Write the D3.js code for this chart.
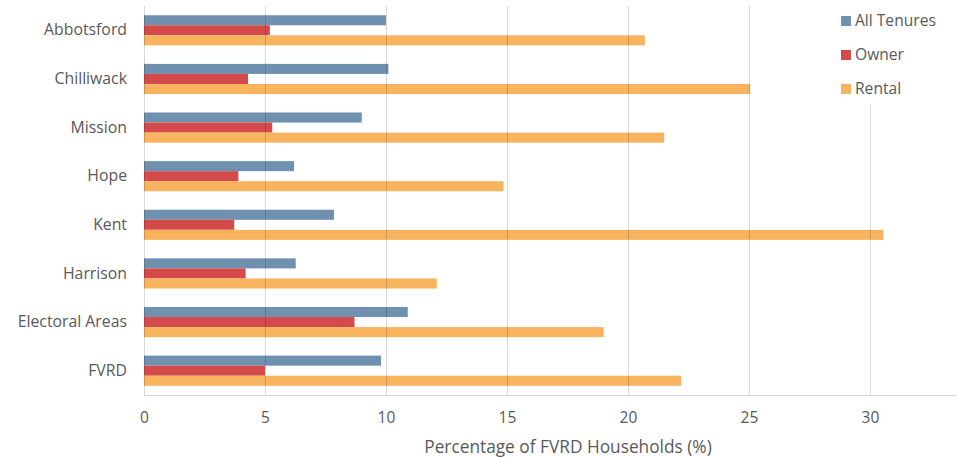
<!DOCTYPE html>
<html>
<head>
<meta charset="utf-8">
<script src="https://cdn.jsdelivr.net/npm/d3@7"></script>
<style>
  body { margin: 0; background: #fff; }
  svg { display: block; font-family: "Open Sans", "Noto Sans", sans-serif; }
</style>
</head>
<body>
<div id="chart"></div>
<script>
// categories and series
const regions = ["Abbotsford", "Chilliwack", "Mission", "Hope", "Kent", "Harrison", "Electoral Areas", "FVRD"];
const seriesNames = ["All Tenures", "Owner", "Rental"];
const allTenures = [10.0, 10.1, 9.0, 6.2, 7.85, 6.27, 10.9, 9.8];
const owner = [5.2, 4.3, 5.3, 3.9, 3.73, 4.2, 8.7, 5.0];
const rental = [20.7, 25.05, 21.5, 14.86, 30.56, 12.1, 19.0, 22.2];
const xTicks = [0, 5, 10, 15, 20, 25, 30];
const seriesColors = ["#6f91af", "#d44a4b", "#f8b35f"];

const width = 957, height = 457;
const margin = { top: 6, right: 0, bottom: 62, left: 144 };
const innerW = width - margin.left - margin.right;
const innerH = height - margin.top - margin.bottom;

const svg = d3.select("#chart").append("svg")
    .attr("width", width)
    .attr("height", height);

const chart = svg.append("g")
    .attr("transform", `translate(${margin.left},${margin.top})`);

// scales
const x = d3.scaleLinear().domain([0, 33.6]).range([0, innerW]);
const y = d3.scaleBand().domain(regions).range([0, innerH]).paddingInner(0.38).paddingOuter(0.19);
const ySub = d3.scaleBand().domain(seriesNames).range([0, y.bandwidth()]);

const values = regions.map((r, i) => ({
    region: r,
    vals: [allTenures[i], owner[i], rental[i]]
}));

// bars
const groups = chart.selectAll(".group")
    .data(values)
    .enter()
    .append("g")
    .attr("transform", d => `translate(0,${y(d.region)})`);

groups.selectAll("rect")
    .data(d => d.vals.map((v, j) => ({ key: seriesNames[j], v: v, j: j })))
    .enter()
    .append("rect")
    .attr("x", 0)
    .attr("y", d => ySub(d.key))
    .attr("width", d => x(d.v))
    .attr("height", ySub.bandwidth())
    .attr("fill", d => seriesColors[d.j]);

// gridlines on top, faint
chart.selectAll(".grid")
    .data(xTicks)
    .enter()
    .append("line")
    .attr("x1", d => x(d) + 0.5)
    .attr("x2", d => x(d) + 0.5)
    .attr("y1", 0)
    .attr("y2", innerH)
    .attr("stroke", "rgba(0,0,0,0.16)")
    .attr("stroke-width", 1);

// bottom axis line
chart.append("line")
    .attr("x1", 0)
    .attr("x2", innerW)
    .attr("y1", innerH + 0.5)
    .attr("y2", innerH + 0.5)
    .attr("stroke", "#d9d9d9");

// x axis tick labels
const xAxis = d3.axisBottom(x).tickValues(xTicks).tickSize(0).tickPadding(17);
chart.append("g")
    .attr("transform", `translate(0,${innerH})`)
    .call(xAxis)
    .call(g => g.select(".domain").remove())
    .selectAll("text")
    .style("font-family", "\"Open Sans\", sans-serif")
    .style("font-size", "15.5px")
    .style("fill", "#595959");

// y axis labels
const yAxis = d3.axisLeft(y).tickSize(0).tickPadding(17);
chart.append("g")
    .call(yAxis)
    .call(g => g.select(".domain").remove())
    .selectAll("text")
    .style("font-family", "\"Open Sans\", sans-serif")
    .style("font-size", "15.8px")
    .style("fill", "#595959");

// axis title
svg.append("text")
    .attr("x", 568)
    .attr("y", 453)
    .attr("text-anchor", "middle")
    .style("font-size", "17.3px")
    .style("fill", "#595959")
    .text("Percentage of FVRD Households (%)");

// legend with white box
const legend = svg.append("g");
legend.append("rect")
    .attr("x", 834)
    .attr("y", 4)
    .attr("width", 123)
    .attr("height", 100)
    .attr("fill", "#fff");

const item = legend.selectAll(".item")
    .data(seriesNames)
    .enter()
    .append("g")
    .attr("transform", (d, i) => `translate(841,${21 + i * 34})`);

item.append("rect")
    .attr("x", 0)
    .attr("y", -5)
    .attr("width", 10)
    .attr("height", 10)
    .attr("fill", (d, i) => seriesColors[i]);

item.append("text")
    .attr("x", 14)
    .attr("y", 0)
    .attr("dy", "0.35em")
    .style("font-size", "15.6px")
    .style("fill", "#595959")
    .text(d => d);
</script>
</body>
</html>
